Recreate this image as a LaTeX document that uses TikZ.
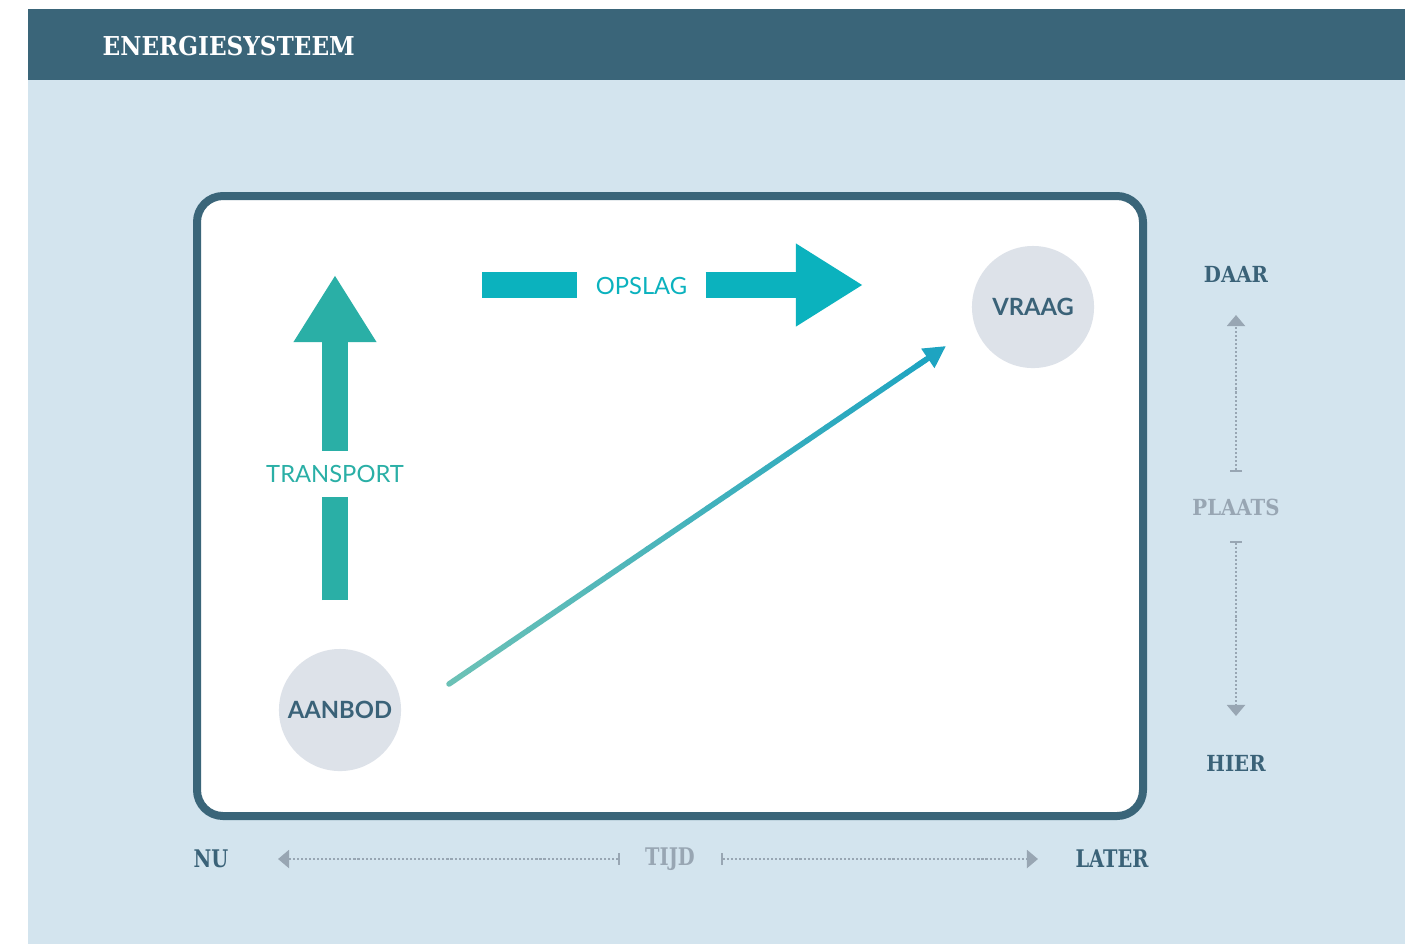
\documentclass[tikz,border=0pt]{standalone}
\usepackage{fontspec}
\setmainfont{Lato}
\newfontfamily\slab[FakeStretch=0.89]{DejaVu Serif}
\newfontfamily\slabcond[FakeStretch=0.8]{DejaVu Serif}
\usetikzlibrary{arrows.meta,calc}
\definecolor{esbg}{RGB}{211,228,238}
\definecolor{eshead}{RGB}{58,101,121}
\definecolor{esdark}{RGB}{58,98,120}
\definecolor{esgrey}{RGB}{152,166,179}
\definecolor{esnode}{RGB}{221,226,233}
\definecolor{esteal}{RGB}{42,175,166}
\definecolor{escyan}{RGB}{11,178,190}
\definecolor{esflowA}{RGB}{110,194,182}
\definecolor{esflowB}{RGB}{30,164,193}

\begin{document}
\begin{tikzpicture}[x=0.01cm,y=-0.01cm,
  party/.style={circle,fill=esnode,minimum size=12.2mm,inner sep=0pt,text=esdark,
    font=\bfseries\fontsize{6.75}{8}\selectfont},
  axislabel/.style={inner sep=0pt,text=esdark,font=\slab\bfseries\fontsize{6.3}{8}\selectfont},
  timelabel/.style={inner sep=0pt,text=esdark,font=\slabcond\bfseries\fontsize{6.9}{8}\selectfont},
  axisline/.style={esgrey,line width=0.6pt,dash pattern=on 0.6pt off 0.55pt},
  bigarrow/.style={line width=2.6mm,-{Triangle[length=6.7mm,width=7.8mm]}},
  barlabel/.style={inner sep=0pt,font=\fontsize{6.75}{8}\selectfont}]
  \useasboundingbox (0,0) rectangle (1415,944);
  % background and header
  \fill[esbg] (28,9) rectangle (1405,944);
  \fill[eshead] (28,9) rectangle (1405,80);
  \node[anchor=west,inner sep=0pt,text=white,font=\slab\bfseries\fontsize{7.4}{9}\selectfont]
    (title) at (102,46) {ENERGIESYSTEEM};
  % system frame
  \draw[line width=0.8mm,draw=eshead,fill=white,rounded corners=2.6mm] (197,196) rectangle (1143,816);
  \node[party] (vraag) at (1033,307) {VRAAG};
  \node[party] (aanbod) at (340,710) {AANBOD};

  % transport (place)
  \coordinate (transport-foot) at (335,600);
  \coordinate (transport-tip) at (335,275);
  \node[barlabel,text=esteal,minimum height=4.5mm] (transport) at (335,474) {TRANSPORT};
  \draw[esteal,line width=2.6mm] (transport-foot) -- (transport.south);
  \draw[esteal,bigarrow] (transport.north) -- (transport-tip);

  % storage (time)
  \coordinate (opslag-foot) at (482,285);
  \coordinate (opslag-tip) at (863,285);
  \node[barlabel,text=escyan,minimum width=12.7mm] (opslag) at (641.5,286) {OPSLAG};
  \draw[escyan,line width=2.6mm] (opslag-foot) -- (opslag.west |- opslag-foot);
  \draw[escyan,bigarrow] (opslag.east |- opslag-tip) -- (opslag-tip);

  % both at once, shaded
  \coordinate (flow-start) at (449,684);
  \coordinate (flow-end) at (946,346);
  \foreach \k in {1,...,24}{
    \pgfmathsetmacro\lo{(\k-1)/25}
    \pgfmathsetmacro\hi{\k/25}
    \pgfmathtruncatemacro\pc{4*\k}
    \draw[line width=0.55mm,line cap=round,esflowB!\pc!esflowA]
      ($(flow-start)!\lo!(flow-end)$) -- ($(flow-start)!\hi!(flow-end)$);
  }
  \draw[line width=0.55mm,esflowB,-{Triangle[length=2.2mm,width=2.2mm]}]
    ($(flow-start)!0.94!(flow-end)$) -- (flow-end);

  % place axis
  \node[axislabel] (daar) at (1236,274) {DAAR};
  \node[axislabel,text=esgrey] (plaats) at (1236,507) {PLAATS};
  \node[axislabel] (hier) at (1236,763) {HIER};
  \draw[axisline,{Bar[width=1.2mm]}-{Triangle[width=1.8mm,length=1.1mm]},shorten <=3.5mm,shorten >=4.1mm]
    (plaats.center) -- (daar.center);
  \draw[axisline,{Bar[width=1.2mm]}-{Triangle[width=1.8mm,length=1.1mm]},shorten <=3.4mm,shorten >=4.7mm]
    (plaats.center) -- (hier.center);

  % time axis
  \node[timelabel] (nu) at (211,859) {NU};
  \node[timelabel,text=esgrey] (tijd) at (670,859) {TIJD};
  \node[timelabel] (later) at (1112,859) {LATER};
  \draw[axisline,{Bar[width=1.2mm]}-{Triangle[width=1.8mm,length=1.1mm]},shorten <=5mm,shorten >=6.7mm]
    (tijd.center) -- (nu.center);
  \draw[axisline,{Bar[width=1.2mm]}-{Triangle[width=1.8mm,length=1.1mm]},shorten <=5.1mm,shorten >=7.4mm]
    (tijd.center) -- (later.center);
\end{tikzpicture}
\end{document}
